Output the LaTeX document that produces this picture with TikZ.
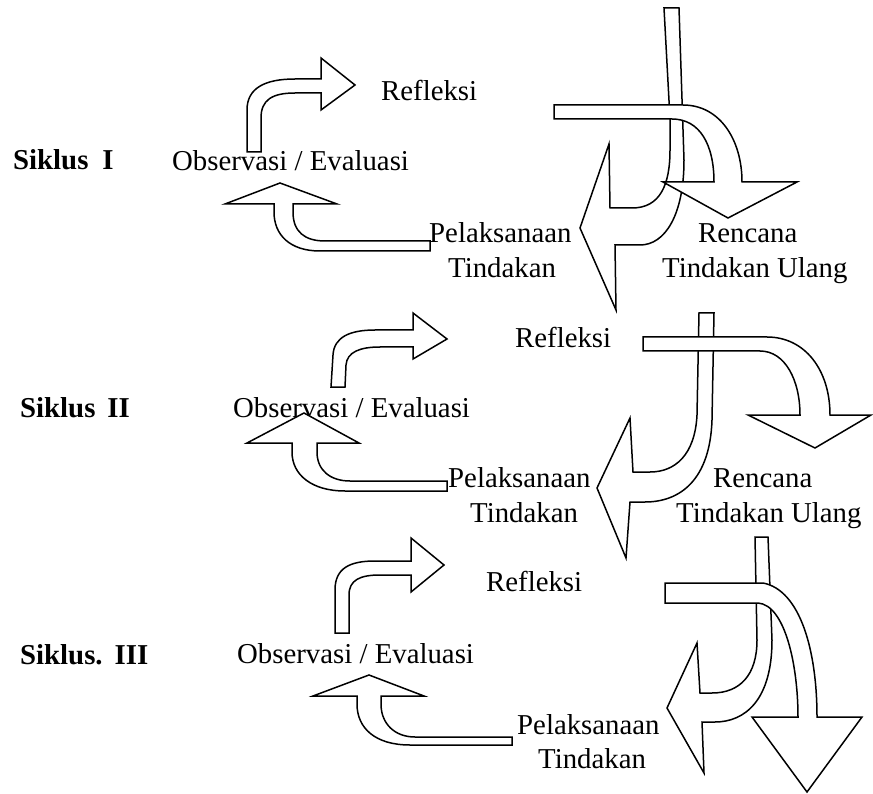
\documentclass[tikz,border=0pt]{standalone}
\usepackage{fontspec}
\setmainfont{Liberation Serif}
\begin{document}
\begin{tikzpicture}[x=1pt,y=-1pt,
  blk/.style={draw=black,fill=white,line width=1.5pt,line join=miter},
  lbl/.style={anchor=base west,inner sep=0pt,font=\fontsize{28.8}{34}\selectfont},
  cyc/.style={anchor=base west,inner sep=0pt,font=\fontsize{28.8}{34}\selectfont\bfseries}]
\useasboundingbox[fill=white] (0,0) rectangle (873,794);

% ---------------- Cycle I ----------------
\node[cyc] (s1) at (13,170) {Siklus\hspace{14pt}I};
\node[lbl] (o1) at (172,171) {Observasi / Evaluasi};
\node[lbl] (r1) at (381,101) {Refleksi};
\node[lbl] (p1a) at (429,243) {Pelaksanaan};
\node[lbl] (p1b) at (448,278) {Tindakan};
\node[lbl] (c1a) at (698,243) {Rencana};
\node[lbl] (c1b) at (662,278) {Tindakan Ulang};

% up-right arrow to Refleksi
\draw[blk] (247,152) -- (247,110) .. controls (247,88) and (265,79) .. (295,79)
  -- (321,79) -- (321,58) -- (355,85) -- (321,110) -- (321,93) -- (295,93)
  .. controls (272,93) and (261,100) .. (261,118) -- (261,152) -- cycle;
% up arrow from Pelaksanaan
\draw[blk] (280,183) -- (337,204) -- (293,204) -- (293,212)
  .. controls (293,232) and (305,241) .. (325,241) -- (430,241) -- (430,251)
  -- (320,251) .. controls (290,251) and (274,235) .. (274,212) -- (274,204)
  -- (225,204) -- cycle;
% left arrow (to Pelaksanaan)
\draw[blk] (664,8) -- (679,8) -- (684,160) .. controls (684,215) and (665,245) .. (640,245)
  -- (615,245) -- (616,310) -- (580,228) -- (609,144) -- (610,208) -- (632,208)
  .. controls (660,208) and (670,185) .. (670,150) -- (670,119) -- cycle;
% down-right arrow (to Rencana)
\draw[blk] (554,105) -- (683,105) .. controls (720,105) and (742,140) .. (742,182)
  -- (797,182) -- (728,218) -- (663,182) -- (714,182)
  .. controls (714,145) and (700,119) .. (672,119) -- (554,119) -- cycle;

% ---------------- Cycle II ----------------
\node[cyc] (s2) at (20,417) {Siklus\hspace{12pt}II};
\node[lbl] (o2) at (233,417) {Observasi / Evaluasi};
\node[lbl] (r2) at (515,348) {Refleksi};
\node[lbl] (p2a) at (448,487) {Pelaksanaan};
\node[lbl] (p2b) at (470,522) {Tindakan};
\node[lbl] (c2a) at (713,487) {Rencana};
\node[lbl] (c2b) at (676,522) {Tindakan Ulang};

\draw[blk] (331,387) -- (333,355) .. controls (334,337) and (350,330) .. (375,330)
  -- (413,330) -- (413,313) -- (447,339) -- (413,359) -- (413,347) -- (380,347)
  .. controls (360,347) and (347,352) .. (346,365) -- (345,387) -- cycle;
\draw[blk] (304,413) -- (359,443) -- (317,443) -- (317,452)
  .. controls (317,470) and (330,481) .. (350,481) -- (447,481) -- (447,491)
  -- (345,491) .. controls (312,491) and (292,475) .. (292,452) -- (292,443)
  -- (247,443) -- cycle;
\draw[blk] (699,313) -- (714,313) -- (712,420) .. controls (710,480) and (680,502) .. (645,502)
  -- (630,502) -- (626,558) -- (597,488) -- (630,418) -- (633,472) -- (650,472)
  .. controls (675,472) and (695,455) .. (697,415) -- cycle;
\draw[blk] (643,337) -- (767,337) .. controls (805,337) and (830,370) .. (830,415)
  -- (871,415) -- (815,448) -- (748,415) -- (800,415)
  .. controls (800,380) and (785,351) .. (760,351) -- (643,351) -- cycle;

% ---------------- Cycle III ----------------
\node[cyc] (s3) at (20,664) {Siklus.\hspace{12pt}III};
\node[lbl] (o3) at (237,663) {Observasi / Evaluasi};
\node[lbl] (r3) at (486,591) {Refleksi};
\node[lbl] (p3a) at (517,734) {Pelaksanaan};
\node[lbl] (p3b) at (538,768) {Tindakan};

\draw[blk] (335,633) -- (335,590) .. controls (335,568) and (350,561) .. (375,561)
  -- (411,561) -- (411,538) -- (444,565) -- (411,592) -- (411,575) -- (380,575)
  .. controls (360,575) and (349,580) .. (349,595) -- (349,633) -- cycle;
\draw[blk] (369,675) -- (424,696) -- (381,696) -- (381,704)
  .. controls (381,724) and (395,737) .. (415,737) -- (512,737) -- (512,745)
  -- (410,745) .. controls (375,745) and (357,728) .. (357,704) -- (357,696)
  -- (313,696) -- cycle;
\draw[blk] (755,537) -- (768,537) -- (772,640) .. controls (772,700) and (745,722) .. (715,722)
  -- (702,722) -- (704,773) -- (667,708) -- (697,643) -- (700,693) -- (712,693)
  .. controls (740,693) and (757,675) .. (757,640) -- cycle;
\draw[blk] (665,583) -- (763,583) .. controls (800,590) and (817,650) .. (817,717)
  -- (862,717) -- (807,792) -- (752,717) -- (798,717)
  .. controls (798,665) and (785,605) .. (758,603) -- (665,603) -- cycle;
\end{tikzpicture}
\end{document}
